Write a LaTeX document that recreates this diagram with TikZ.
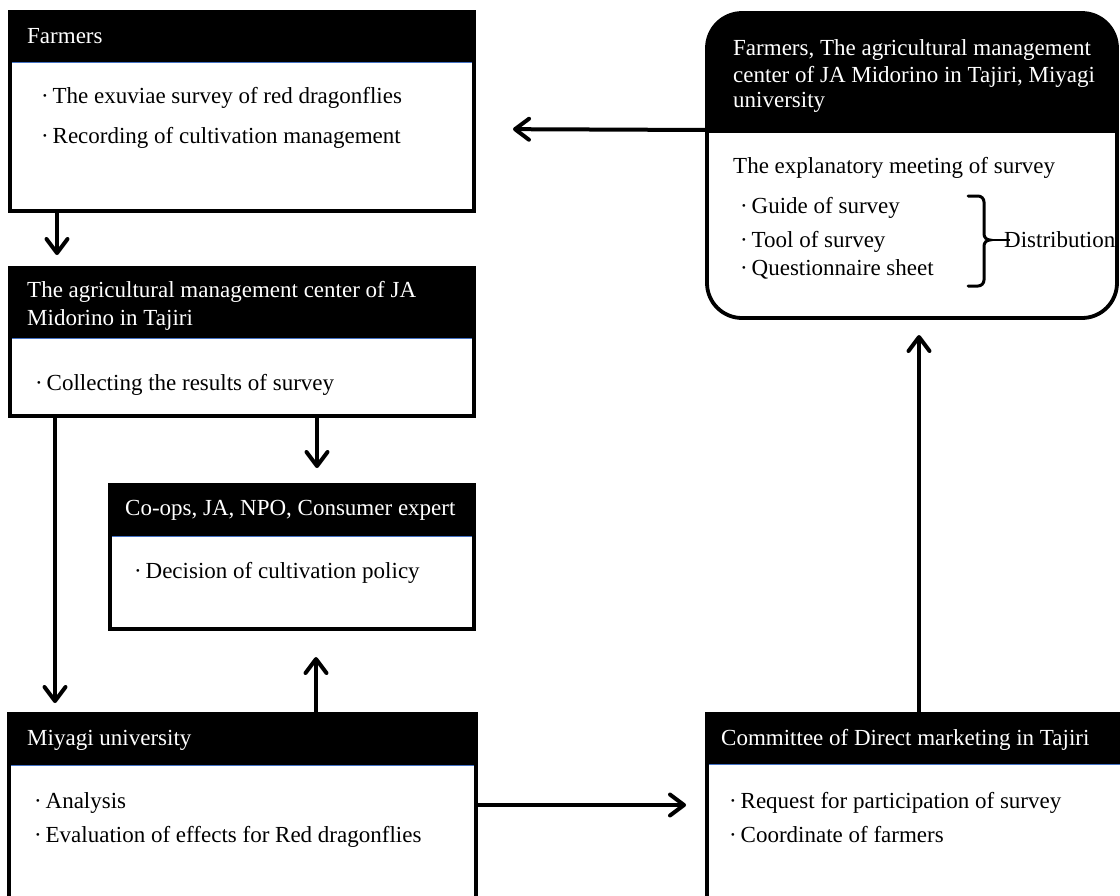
\documentclass[tikz,border=0pt]{standalone}
\usepackage{fontspec}
\setmainfont{Liberation Serif}
\usetikzlibrary{arrows.meta}
\definecolor{hdrblue}{RGB}{68,114,196}
\tikzset{
  box/.style={draw, line width=3.8pt, inner sep=0pt, outer sep=0pt},
  hdr/.style={text=white, anchor=base west, inner sep=0pt},
  txt/.style={anchor=base west, inner sep=0pt},
  arr/.style={line width=4pt, -{Straight Barb[length=14pt,width=21pt,line cap=round,line join=round]}},
  blueline/.style={draw=hdrblue, line width=1.5pt}
}
\begin{document}
\begin{tikzpicture}[x=1pt,y=-1pt,font=\fontsize{23}{27}\selectfont]
\useasboundingbox (0,0) rectangle (1120,895);
\clip (0,0) rectangle (1120,895);
% ---------- Farmers
\node[box, minimum width=464, minimum height=199] (farm) at (242,111.5) {};
\fill (farm.north west) rectangle ([yshift=-50pt]farm.north east);
\draw[blueline] ([xshift=2pt,yshift=-50.5pt]farm.north west) -- ([xshift=-2pt,yshift=-50.5pt]farm.north east);
\node[hdr] (farmh) at (27,43) {Farmers};
\node[txt] (farm1) at (41,103) {·\,The exuviae survey of red dragonflies};
\node[txt] (farm2) at (41,143) {·\,Recording of cultivation management};
% ---------- JA center
\node[box, minimum width=464, minimum height=148] (ja) at (242,342) {};
\fill (ja.north west) rectangle ([yshift=-70pt]ja.north east);
\draw[blueline] ([xshift=2pt,yshift=-70.5pt]ja.north west) -- ([xshift=-2pt,yshift=-70.5pt]ja.north east);
\node[hdr] (jah1) at (27,297) {The agricultural management center of JA};
\node[hdr] (jah2) at (27,325) {Midorino in Tajiri};
\node[txt] (ja1) at (35,390) {·\,Collecting the results of survey};
% ---------- Co-ops
\node[box, minimum width=364, minimum height=144] (coop) at (292,557) {};
\fill (coop.north west) rectangle ([yshift=-51pt]coop.north east);
\draw[blueline] ([xshift=2pt,yshift=-51.5pt]coop.north west) -- ([xshift=-2pt,yshift=-51.5pt]coop.north east);
\node[hdr] (cooph) at (125,515) {Co-ops, JA, NPO, Consumer expert};
\node[txt] (coop1) at (134,578) {·\,Decision of cultivation policy};
% ---------- Miyagi university
\node[box, minimum width=467, minimum height=216] (miy) at (242.5,822) {};
\fill (miy.north west) rectangle ([yshift=-51pt]miy.north east);
\draw[blueline] ([xshift=2pt,yshift=-51.5pt]miy.north west) -- ([xshift=-2pt,yshift=-51.5pt]miy.north east);
\node[hdr] (miyh) at (27,745) {Miyagi university};
\node[txt] (miy1) at (34,808) {·\,Analysis};
\node[txt] (miy2) at (34,842) {·\,Evaluation of effects for Red dragonflies};
% ---------- Committee
\node[box, minimum width=433, minimum height=216] (com) at (923.5,822) {};
\fill (com.north west) rectangle ([yshift=-50pt]com.north east);
\draw[blueline] ([xshift=2pt,yshift=-50.5pt]com.north west) -- ([xshift=-2pt,yshift=-50.5pt]com.north east);
\node[hdr] (comh) at (721,745) {Committee of Direct marketing in Tajiri};
\node[txt] (com1) at (729,808) {·\,Request for participation of survey};
\node[txt] (com2) at (729,842) {·\,Coordinate of farmers};
% ---------- Top right rounded box
\node[inner sep=0pt, outer sep=0pt, minimum width=410, minimum height=305] (tr) at (912,165.5) {};
\begin{scope}
\clip[rounded corners=35pt] (tr.south west) rectangle (tr.north east);
\fill (tr.north west) rectangle ([yshift=-120pt]tr.north east);
\end{scope}
\draw[line width=3.8pt, rounded corners=35pt] (tr.south west) rectangle (tr.north east);
\node[hdr] (trh1) at (733,55) {Farmers, The agricultural management};
\node[hdr] (trh2) at (733,82) {center of JA Midorino in Tajiri, Miyagi};
\node[hdr] (trh3) at (733,107) {university};
\node[txt] (trb) at (733,173) {The explanatory meeting of survey};
\node[txt] (tr1) at (740,213) {·\,Guide of survey};
\node[txt] (tr2) at (740,247) {·\,Tool of survey};
\node[txt] (tr3) at (740,275) {·\,Questionnaire sheet};
\draw[line width=3pt, line cap=round]
  (968,196) -- (978,196) to[out=0,in=90] (984,202) -- (984,234)
  to[out=-90,in=180] (990,240) to[out=180,in=90] (984,246) -- (984,280)
  to[out=-90,in=0] (978,286) -- (968,286);
\node[txt] (dist) at (1004,247) {Distribution};
\draw[line width=2pt] (990,240) -- ([xshift=6pt]dist.west |- 0,240);
% ---------- connectors
\draw[arr, shorten >=13pt] ([xshift=47pt]farm.south west) -- ([xshift=47pt]ja.north west);
\draw[arr, shorten >=17pt] ([xshift=307pt]ja.south west) -- ([xshift=207pt]coop.north west);
\draw[arr, shorten >=11pt] ([xshift=45pt]ja.south west) -- ([xshift=46pt]miy.north west);
\draw[arr, shorten >=28pt] ([xshift=307pt]miy.north west) -- ([xshift=206pt]coop.south west);
\draw[arr, shorten >=21pt] ([yshift=-91pt]miy.north east) -- ([yshift=-91pt]com.north west);
\draw[arr, shorten >=17pt] ([xshift=212pt]com.north west) -- ([xshift=212pt]tr.south west);
\draw[arr, shorten >=39pt] ([yshift=-117pt]tr.north west) -- ([yshift=-117pt]farm.north east);
\end{tikzpicture}
\end{document}
